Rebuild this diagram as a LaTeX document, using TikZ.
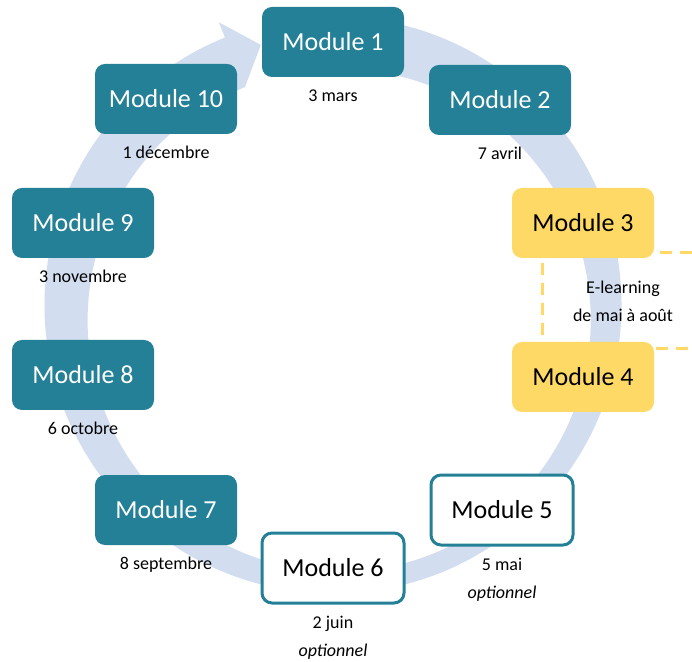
\documentclass[tikz,border=0pt]{standalone}
\usepackage{fontspec}
\setmainfont{Carlito}
\usetikzlibrary{positioning}
\definecolor{tealmod}{RGB}{36,128,150}
\definecolor{yellowmod}{RGB}{255,217,102}
\definecolor{ringblue}{RGB}{210,222,239}

\begin{document}
\begin{tikzpicture}[x=1pt,y=1pt,
	modbase/.style={rounded corners=10pt,minimum width=142pt,minimum height=70pt,font=\fontsize{26}{30}\selectfont},
	tealbox/.style={modbase,fill=tealmod,text=white},
	yellowbox/.style={modbase,fill=yellowmod,text=black},
	whitebox/.style={modbase,fill=white,draw=tealmod,line width=3pt,text=black},
	datetext/.style={inner sep=0pt,align=center,font=\fontsize{18}{28}\selectfont}]
		\useasboundingbox (0,0) rectangle (692,661);
		
		\fill[ringblue,shift={(333,356)}] (88:288.5pt) arc[start angle=88,end angle=-248,radius=288.5pt]
			-- (-248:305pt) -- (-254.5:270pt) -- (-248:235pt)
			arc[start angle=-248,end angle=88,radius=251.5pt] -- cycle;
		
		\draw[yellowmod,line width=3pt,dash pattern=on 12pt off 8pt] (692,408) -- (542,408) -- (542,312) -- (692,312);
		
		\node[tealbox] (m1) at (333,619) {Module 1};
		\node[tealbox] (m2) at (500,561) {Module 2};
		\node[yellowbox] (m3) at (583,438) {Module 3};
		\node[yellowbox] (m4) at (583,284) {Module 4};
		\node[whitebox] (m5) at (502,151) {Module 5};
		\node[whitebox] (m6) at (333,93) {Module 6};
		\node[tealbox] (m7) at (166,151) {Module 7};
		\node[tealbox] (m8) at (83,286) {Module 8};
		\node[tealbox] (m9) at (83,438) {Module 9};
		\node[tealbox] (m10) at (166,562) {Module 10};
		
		\node[datetext,below=12pt of m1] (d1) {3 mars};
		\node[datetext,below=12pt of m2] (d2) {7 avril};
		\node[datetext,below=11pt of m5] (d5) {5 mai\\\textit{optionnel}};
		\node[datetext,below=11pt of m6] (d6) {2 juin\\\textit{optionnel}};
		\node[datetext,below=12pt of m7] (d7) {8 septembre};
		\node[datetext,below=12pt of m8] (d8) {6 octobre};
		\node[datetext,below=12pt of m9] (d9) {3 novembre};
		\node[datetext,below=12pt of m10] (d10) {1 décembre};
		
		\node[datetext] (elearn) at (623,360) {E-learning\\de mai à août};
\end{tikzpicture}
\end{document}
